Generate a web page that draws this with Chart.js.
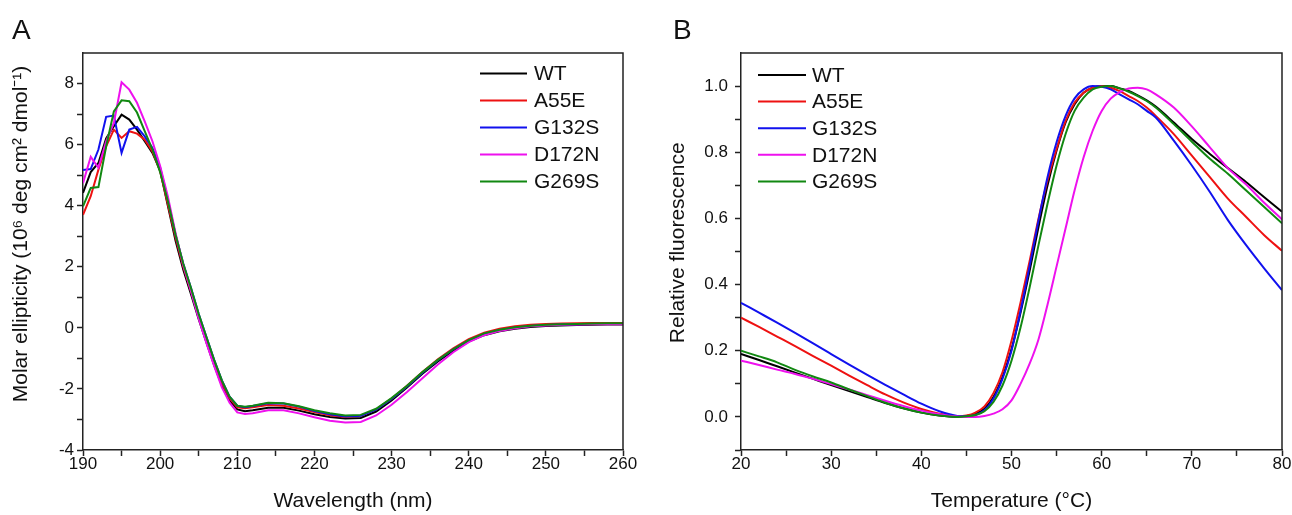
<!DOCTYPE html>
<html>
  <head>
    <title>CD spectra and thermal shift</title>
    <script src="https://cdn.jsdelivr.net/npm/chart.js"></script>
    <style>
      body { margin: 0; background: #fff; font-family: "Liberation Sans", Arial, sans-serif; }
      .panel { position: absolute; top: 0; width: 646px; height: 515px; }
      .tag { position: absolute; top: 16px; font-size: 28px; line-height: 28px; color: #111; }
    </style>
  </head>

  <body>
    <div class="panel" style="left: 0"><canvas id="chartA" width="646" height="515"></canvas></div>
    <div class="panel" style="left: 646px"><canvas id="chartB" width="646" height="515"></canvas></div>
    <div class="tag" style="left: 12px">A</div>
    <div class="tag" style="left: 673px">B</div>

    <script>
      var names = ["WT", "A55E", "G132S", "D172N", "G269S"];
      var colors = ["#000000", "#ee1111", "#1111ee", "#ee11ee", "#118811"];

      // panel A - far-UV CD spectra
      var wavelength = [
        190, 191, 192, 193, 194, 195, 196, 197, 198, 199, 200, 201, 202, 203, 204, 205, 206, 207, 208, 209, 210, 211, 212,
        214, 216, 218, 220, 222, 224, 226, 228, 230, 232, 234, 236, 238, 240, 242, 244, 246, 248, 250, 252, 254, 256, 258, 260,
      ];
      var cdWT = [
        4.42, 5.1, 5.4, 6.2, 6.6, 6.98, 6.82, 6.49, 6.11, 5.73, 5.15, 4.0, 2.85, 1.9, 1.1, 0.28, -0.48, -1.22, -1.88, -2.38, -2.67, -2.73, -2.7,
        -2.62, -2.62, -2.71, -2.83, -2.92, -2.97, -2.95, -2.74, -2.38, -1.95, -1.5, -1.1, -0.75, -0.45, -0.24, -0.11, -0.03, 0.03, 0.06, 0.08, 0.09, 0.1, 0.11, 0.11,
      ];
      var cdA55E = [
        3.7, 4.31, 5.18, 5.94, 6.49, 6.22, 6.44, 6.36, 6.16, 5.78, 5.13, 4.05, 2.95, 2.0, 1.2, 0.38, -0.4, -1.12, -1.8, -2.3, -2.6, -2.63, -2.6,
        -2.53, -2.55, -2.64, -2.76, -2.86, -2.92, -2.88, -2.67, -2.32, -1.9, -1.45, -1.03, -0.67, -0.37, -0.16, -0.03, 0.05, 0.1, 0.13, 0.14, 0.15, 0.16, 0.16, 0.16,
      ];
      var cdG132S = [
        5.17, 5.2, 5.84, 6.91, 6.95, 5.73, 6.49, 6.58, 6.27, 5.89, 5.25, 4.2, 3.05, 2.1, 1.3, 0.45, -0.3, -1.05, -1.72, -2.25, -2.55, -2.6, -2.56,
        -2.47, -2.48, -2.58, -2.72, -2.83, -2.9, -2.88, -2.68, -2.33, -1.92, -1.47, -1.06, -0.7, -0.41, -0.2, -0.07, 0.01, 0.06, 0.09, 0.11, 0.12, 0.13, 0.13, 0.13,
      ];
      var cdD172N = [
        4.74, 5.6, 5.24, 6.11, 6.71, 8.04, 7.8, 7.37, 6.76, 6.11, 5.3, 4.3, 3.1, 2.05, 1.2, 0.3, -0.5, -1.25, -1.95, -2.45, -2.77, -2.82, -2.8,
        -2.7, -2.7, -2.8, -2.93, -3.04, -3.1, -3.08, -2.87, -2.52, -2.1, -1.65, -1.2, -0.8, -0.47, -0.24, -0.1, -0.01, 0.05, 0.08, 0.1, 0.11, 0.12, 0.12, 0.12,
      ];
      var cdG269S = [
        3.98, 4.58, 4.61, 5.94, 7.09, 7.45, 7.42, 7.05, 6.44, 5.84, 5.1, 4.15, 3.05, 2.1, 1.3, 0.45, -0.3, -1.05, -1.72, -2.25, -2.55, -2.58, -2.55,
        -2.45, -2.47, -2.57, -2.7, -2.8, -2.87, -2.85, -2.65, -2.3, -1.9, -1.45, -1.05, -0.7, -0.4, -0.18, -0.06, 0.02, 0.07, 0.1, 0.12, 0.13, 0.14, 0.15, 0.15,
      ];

      // panel B - thermal shift, relative fluorescence
      var temperature = [
        20, 22, 24, 26, 28, 30, 32, 34, 36, 38, 40, 42, 44,
        45, 46, 47, 48, 49, 50, 51, 52, 53, 54, 55, 56, 57, 58, 59, 60, 61, 62, 63, 64, 65, 66,
        68, 70, 72, 74, 76, 78, 80,
      ];
      var fluWT = [
        0.19, 0.172, 0.153, 0.134, 0.115, 0.096, 0.078, 0.06, 0.042, 0.026, 0.013, 0.004, 0.0,
        0.003, 0.01, 0.025, 0.06, 0.12, 0.205, 0.315, 0.44, 0.575, 0.7, 0.805, 0.89, 0.945, 0.98, 0.995, 1.0, 1.0, 0.993, 0.985, 0.972, 0.957, 0.938,
        0.89, 0.84, 0.795, 0.752, 0.71, 0.665, 0.62,
      ];
      var fluA55E = [
        0.3, 0.272, 0.243, 0.214, 0.184, 0.155, 0.125, 0.096, 0.068, 0.044, 0.024, 0.01, 0.002,
        0.004, 0.013, 0.032, 0.072, 0.135, 0.23, 0.345, 0.47, 0.6, 0.715, 0.81, 0.895, 0.95, 0.98, 0.995, 1.0, 0.995, 0.985, 0.97, 0.955, 0.935, 0.91,
        0.855, 0.79, 0.725, 0.66, 0.605, 0.55, 0.502,
      ];
      var fluG132S = [
        0.345, 0.315, 0.285, 0.254, 0.222, 0.19, 0.158, 0.127, 0.097, 0.068, 0.04, 0.017, 0.003,
        0.002, 0.006, 0.02, 0.055, 0.115, 0.2, 0.32, 0.455, 0.595, 0.725, 0.83, 0.91, 0.963, 0.99, 1.0, 0.998, 0.99, 0.975, 0.96, 0.945, 0.925, 0.905,
        0.835, 0.76, 0.68, 0.595, 0.52, 0.45, 0.383,
      ];
      var fluD172N = [
        0.17, 0.157, 0.143, 0.13, 0.115, 0.099, 0.083, 0.066, 0.049, 0.033, 0.019, 0.008, 0.001,
        0.0, 0.0, 0.003, 0.01, 0.023, 0.05, 0.1, 0.16, 0.235, 0.34, 0.455, 0.57, 0.685, 0.785, 0.865, 0.925, 0.962, 0.982, 0.993, 0.995, 0.99, 0.975,
        0.935, 0.878, 0.815, 0.752, 0.703, 0.648, 0.597,
      ];
      var fluG269S = [
        0.2, 0.183, 0.165, 0.142, 0.122, 0.104, 0.083, 0.063, 0.043, 0.026, 0.013, 0.004, 0.0,
        0.002, 0.006, 0.017, 0.045, 0.095, 0.17, 0.27, 0.39, 0.52, 0.645, 0.76, 0.855, 0.925, 0.965, 0.99, 0.998, 1.0, 0.993, 0.983, 0.97, 0.955, 0.935,
        0.885, 0.832, 0.78, 0.735, 0.685, 0.635, 0.585,
      ];

      Chart.defaults.font.family = "'Liberation Sans', Arial, sans-serif";
      Chart.defaults.color = "#111";

      // legend inside the plot + top/right frame lines
      var boxLegend = {
        id: "boxLegend",
        afterDatasetsDraw: function (chart, args, opts) {
          var ctx = chart.ctx;
          var a = chart.chartArea;
          ctx.save();
          ctx.strokeStyle = "#222";
          ctx.lineWidth = 1.5;
          ctx.beginPath();
          ctx.moveTo(a.left, a.top);
          ctx.lineTo(a.right, a.top);
          ctx.lineTo(a.right, a.bottom);
          ctx.stroke();

          ctx.font = "21px 'Liberation Sans', Arial, sans-serif";
          ctx.textBaseline = "middle";
          chart.data.datasets.forEach(function (ds, i) {
            var y = opts.y + i * opts.dy;
            ctx.strokeStyle = ds.borderColor;
            ctx.lineWidth = 2;
            ctx.beginPath();
            ctx.moveTo(opts.x1, y);
            ctx.lineTo(opts.x2, y);
            ctx.stroke();
            ctx.fillStyle = "#111";
            ctx.fillText(ds.label, opts.tx, y + 1);
          });
          ctx.restore();
        },
      };

      function makeSets(xs, series, mode) {
        return series.map(function (ys, i) {
          return {
            label: names[i],
            data: xs.map(function (x, j) {
              return { x: x, y: ys[j] };
            }),
            borderColor: colors[i],
            borderWidth: 2,
            pointRadius: 0,
            tension: 0,
            cubicInterpolationMode: mode,
            order: series.length - i,
          };
        });
      }

      function axis(min, max, step, label, title, titlePad, size, tickPad, hideMax) {
        return {
          type: "linear",
          min: min,
          max: max,
          afterFit: function (s) {
            if (s.isHorizontal()) s.height = size;
            else s.width = size;
          },
          grid: {
            drawOnChartArea: false,
            drawTicks: true,
            tickLength: 6,
            tickWidth: 1.5,
            tickColor: function (c) {
              return hideMax && c.tick && Math.abs(c.tick.value - max) < 1e-6 ? "rgba(0,0,0,0)" : "#222";
            },
          },
          border: { display: true, color: "#222", width: 1.5 },
          ticks: {
            stepSize: step,
            autoSkip: false,
            maxRotation: 0,
            padding: tickPad,
            font: { size: 17 },
            color: "#111",
            callback: label,
          },
          title: { display: true, text: title, font: { size: 21 }, padding: titlePad, color: "#111" },
        };
      }

      // leading spaces nudge the rotated y titles up a little, as in the original
      var titleA = "\u00a0\u00a0\u00a0\u00a0\u00a0\u00a0Molar ellipticity (10\u2076 deg cm\u00b2 dmol\u207b\u00b9)";
      var titleB = "\u00a0\u00a0\u00a0Relative fluorescence";

      var chartA = new Chart(document.getElementById("chartA"), {
        type: "line",
        data: { datasets: makeSets(wavelength, [cdWT, cdA55E, cdG132S, cdD172N, cdG269S], "default") },
        options: {
          responsive: false,
          animation: false,
          layout: { padding: { top: 53, right: 23, left: 0, bottom: 0 } },
          scales: {
            x: axis(190, 260, 5, function (v) { return v % 10 === 0 ? String(v) : ""; },
              "Wavelength (nm)", { top: 0, bottom: 1 }, 65, -2, false),
            y: axis(-4, 9, 1, function (v) { return v % 2 === 0 ? String(v) : ""; },
              titleA, { top: 9, bottom: 0 }, 83, 3, true),
          },
          plugins: {
            legend: { display: false },
            tooltip: { enabled: false },
            boxLegend: { x1: 480, x2: 527, tx: 534, y: 73.5, dy: 27 },
          },
        },
        plugins: [boxLegend],
      });

      var chartB = new Chart(document.getElementById("chartB"), {
        type: "line",
        data: { datasets: makeSets(temperature, [fluWT, fluA55E, fluG132S, fluD172N, fluG269S], "monotone") },
        options: {
          responsive: false,
          animation: false,
          layout: { padding: { top: 53, right: 10, left: 0, bottom: 0 } },
          scales: {
            x: axis(20, 80, 5, function (v) { return v % 10 === 0 ? String(v) : ""; },
              "Temperature (\u00b0C)", { top: 0, bottom: 1 }, 65, -2, false),
            y: axis(-0.1, 1.1, 0.1, function (v) {
                var k = Math.round(v * 10);
                return k % 2 === 0 ? (k / 10).toFixed(1) : "";
              },
              titleB, { top: 20, bottom: 0 }, 95, 7, true),
          },
          plugins: {
            legend: { display: false },
            tooltip: { enabled: false },
            boxLegend: { x1: 112, x2: 160, tx: 166, y: 75, dy: 26.6 },
          },
        },
        plugins: [boxLegend],
      });
    </script>
  </body>
</html>
